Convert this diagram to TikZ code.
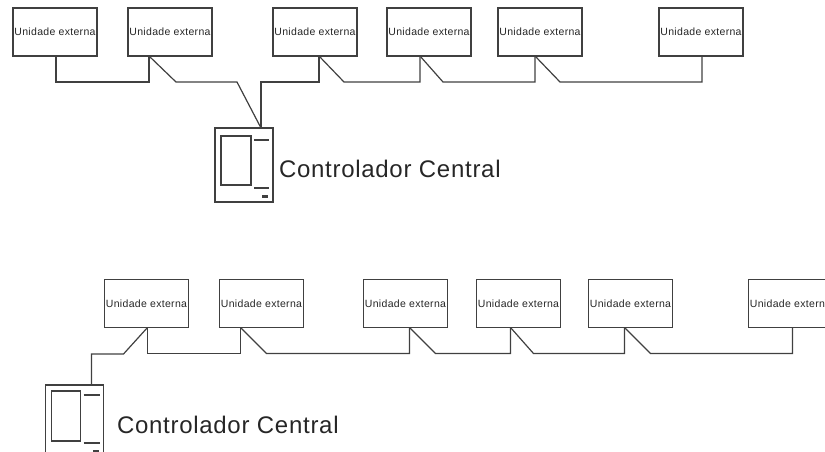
\documentclass[tikz,border=0pt]{standalone}
\usepackage{fontspec}
\setmainfont{Liberation Sans}[LetterSpace=3]
\usetikzlibrary{positioning, calc}

\begin{document}
\begin{tikzpicture}[x=1pt,y=-1pt,inner sep=0pt,outer sep=0pt,line width=1.2pt,
  unit/.style={draw=black!75,minimum width=84pt,minimum height=48pt,font=\fontsize{10.5}{12}\selectfont,text=black!85},
  ctrl/.style={draw=black!75,minimum width=58pt,minimum height=74pt},
  lbl/.style={anchor=west,font=\fontsize{24}{28}\selectfont,text=black!85},
  wire/.style={draw=black!75,line join=miter}]
\useasboundingbox (0,0) rectangle (825,452);
\clip (0,0) rectangle (825,452);

% upper layout
\node [unit] (U1) at (55,32) {Unidade externa};
\node [unit] [right=31pt of U1] (U2) {Unidade externa};
\node [unit] [right=61pt of U2] (U3) {Unidade externa};
\node [unit] [right=30pt of U3] (U4) {Unidade externa};
\node [unit] [right=27pt of U4] (U5) {Unidade externa};
\node [unit] [right=77pt of U5] (U6) {Unidade externa};
\node [ctrl] (C1) at (244,165) {};
\node [lbl] (L1) at (279,169) {Controlador Central};
\draw [black!75] ([shift={(6,8)}]C1.north west) rectangle ([shift={(36,57)}]C1.north west);
\draw [black!75] ([shift={(39,12)}]C1.north west) -- ([shift={(54,12)}]C1.north west);
\draw [black!75] ([shift={(39,60)}]C1.north west) -- ([shift={(54,60)}]C1.north west);
\fill [black!75] ([shift={(47,67)}]C1.north west) rectangle ([shift={(53,70)}]C1.north west);
\draw [wire] ([xshift=43pt]U1.south west) -- ++(0,26) -| ([xshift=21pt]U2.south west);
\draw [wire] ([xshift=21pt]U2.south west) -- ++(27,26) -- ++(61,0) -- ([xshift=46pt]C1.north west);
\draw [wire] ([xshift=46pt]U3.south west) -- ++(0,26) -| ([xshift=46pt]C1.north west);
\draw [wire] ([xshift=46pt]U3.south west) -- ++(25,26) -| ([xshift=33pt]U4.south west);
\draw [wire] ([xshift=33pt]U4.south west) -- ++(23,26) -| ([xshift=37pt]U5.south west);
\draw [wire] ([xshift=37pt]U5.south west) -- ++(25,26) -| ([xshift=43pt]U6.south west);

% lower layout
\node [unit] (D1) at (146.5,303.5) {Unidade externa};
\node [unit] [right=31pt of D1] (D2) {Unidade externa};
\node [unit] [right=60pt of D2] (D3) {Unidade externa};
\node [unit] [right=29pt of D3] (D4) {Unidade externa};
\node [unit] [right=28pt of D4] (D5) {Unidade externa};
\node [unit] [right=76pt of D5] (D6) {Unidade externa};
\node [ctrl] (C2) at (74.5,422) {};
\node [lbl] (L2) at (117,425) {Controlador Central};
\draw [black!75] ([shift={(6,6)}]C2.north west) rectangle ([shift={(35,56)}]C2.north west);
\draw [black!75] ([shift={(38,10)}]C2.north west) -- ([shift={(54,10)}]C2.north west);
\draw [black!75] ([shift={(38,58)}]C2.north west) -- ([shift={(54,58)}]C2.north west);
\fill [black!75] ([shift={(47,65)}]C2.north west) rectangle ([shift={(53,68)}]C2.north west);
\draw [wire] ([xshift=46pt]C2.north west) -- ++(0,-31) -- ++(32,0) -- ([xshift=43pt]D1.south west);
\draw [wire] ([xshift=43pt]D1.south west) -- ++(0,26) -| ([xshift=21pt]D2.south west);
\draw [wire] ([xshift=21pt]D2.south west) -- ++(26,26) -| ([xshift=46pt]D3.south west);
\draw [wire] ([xshift=46pt]D3.south west) -- ++(26,26) -| ([xshift=34pt]D4.south west);
\draw [wire] ([xshift=34pt]D4.south west) -- ++(23,26) -| ([xshift=36pt]D5.south west);
\draw [wire] ([xshift=36pt]D5.south west) -- ++(26,26) -| ([xshift=44pt]D6.south west);
\end{tikzpicture}
\end{document}
